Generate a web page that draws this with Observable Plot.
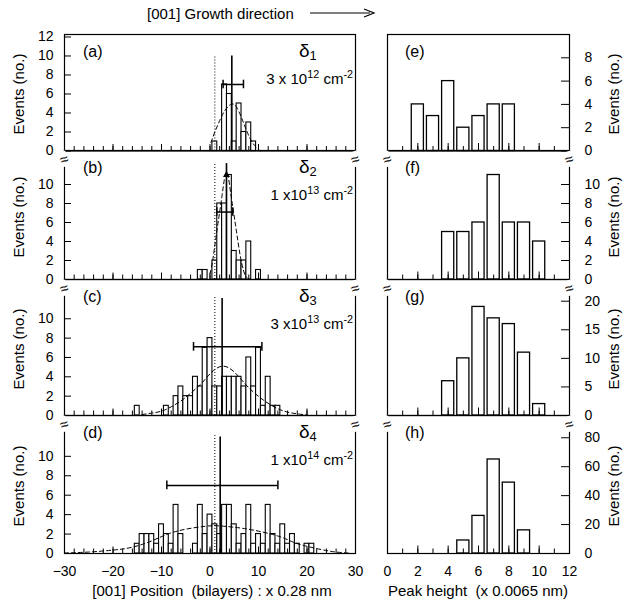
<!DOCTYPE html>
<html><head><meta charset="utf-8">
<script src="https://cdn.jsdelivr.net/npm/d3@7"></script>
<script src="https://cdn.jsdelivr.net/npm/@observablehq/plot@0.6"></script>
<style>
body{margin:0;background:#fff;font-family:"Liberation Sans",Arial,sans-serif;}
#chart{position:relative;width:626px;height:607px;overflow:hidden;background:#fff;}
#chart > svg{position:absolute;}
.t{position:absolute;white-space:pre;color:#000;line-height:1;}
.t sup{font-size:72%;vertical-align:0.55em;line-height:0;}
.t sub{font-size:68%;vertical-align:-0.3em;line-height:0;}
</style></head><body><div id="chart"></div>
<script>
// ---------- data ----------
// position histograms (bin centre in bilayers, event count)
const binsA = [1,3,4,5,6,7,8,9];
const countsA = [1,7,6,1,5,2,3,1];
const binsB = [-2,-1,1,2,3,4,5,6,7,8,10];
const countsB = [1,1,2,8,8,11,3,2,2,4,1];
const binsC = [-15,-9,-7,-6,-5,-4,-3,-2,-1,0,1,2,3,4,5,6,7,8,9,10,11,12,13,14];
const countsC = [1,1,2,3,2,2,4,3,7,8,3,3,4,4,4,4,3,6,3,7,1,4,1,1];
const binsD = [-15,-14,-13,-12,-11,-10,-9,-8,-7,-6,-3,-2,-1,0,1,2,3,4,5,6,7,8,9,10,11,12,13,14,15,16,17,18,20,21];
const countsD = [1,2,2,2,1,3,2,1,5,2,1,5,2,4,3,2,5,5,3,1,2,5,1,2,1,5,2,1,3,1,2,1,1,1];

// dashed fit curves
const fitAx = [0.2,1,2,3,4,4.7,5.5,6.5,7.5,8.5,9.5,10.4];
const fitAy = [0.9,2.0,3.2,4.2,4.8,4.95,4.6,3.5,2.2,1.1,0.4,0];
const fitBx = [0,0.55,1.5,2.5,3.4,4.3,5.3,6.2,7,7.6];
const fitBy = [0.6,2.0,5.4,8.9,11.3,9.0,5.6,2.6,0.8,0.2];
const fitCx = [-14,-12,-10,-8,-6,-4.5,-2,0,2.5,5,7,9,11,13,15,17,20];
const fitCy = [0.1,0.25,0.45,0.9,1.5,2.1,3.2,4.3,5.1,4.5,3.4,2.4,1.6,0.95,0.5,0.25,0.05];
const fitDx = [-30,-25,-20,-16,-12,-8.7,-5,-1,1.6,5,9,14,17,19.5,23,26,29];
const fitDy = [0.05,0.15,0.35,0.65,1.3,2.0,2.5,2.8,2.85,2.7,2.4,1.8,1.2,0.8,0.4,0.15,0.03];

// mean position (solid line), its top, error bar, nominal position (dotted)
const meanPos = [4.5, 3.4, 2.5, 2.1];
const meanTop = [10, 12.2, 12.1, 12];
const errY = [7.0, 7.1, 7.1, 7.0];
const errLo = [2.7, 1.4, -3.4, -8.9];
const errHi = [6.9, 4.7, 10.7, 14.0];
const nominalPos = [1, 1, 1, 1];
const nominalTop = [10, 12.2, 12.3, 12.2];

// peak height histograms
const binsE = [2,3,4,5,6,7,8];
const countsE = [4,3,6,2,3,4,4];
const binsF = [4,5,6,7,8,9,10];
const countsF = [5,5,6,11,6,6,4];
const binsG = [4,5,6,7,8,9,10];
const countsG = [6,10,19,17,16,11,2];
const binsH = [5,6,7,8,9];
const countsH = [9,26,65,49,16];

// labels
const panelLetters = ["(a)","(b)","(c)","(d)","(e)","(f)","(g)","(h)"];
const deltaNames = ["1","2","3","4"];
const densMant = ["3 x 10","1 x10","3 x10","1 x10"];
const densExp = ["12","13","13","14"];
const yTicksLeft = [[0,2,4,6,8,10,12],[0,2,4,6,8,10],[0,2,4,6,8,10],[0,2,4,6,8,10]];
const yTicksRight = [[0,2,4,6,8],[0,2,4,6,8,10],[0,5,10,15,20],[0,20,40,60,80]];
const xLabelsLeft = [-30,-20,-10,0,10,20,30];
const xLabelsRight = [0,2,4,6,8,10,12];
const yTopLeft = [12.26, 13.58, 14.06, 14.2];
const yTopRight = [10.0, 13.58, 23.8, 95.4];

// ---------- layout ----------
const chart = document.getElementById("chart");
const rows = [[33.5,150],[150,279],[279,415],[415,553]];
const leftX = [64,355], rightX = [387,569];
const font = '"Liberation Sans", Arial, sans-serif';

function addText(html, x, y, o = {}) {
  const s = document.createElement("div");
  s.className = "t";
  s.innerHTML = html;
  s.style.fontSize = (o.size || 14) + "px";
  const tx = o.anchor === "end" ? "-100%" : o.anchor === "start" ? "0" : "-50%";
  s.style.left = x + "px"; s.style.top = y + "px";
  s.style.transform = `translate(${tx},-50%)` + (o.rotate ? ` rotate(${o.rotate}deg)` : "");
  if (o.bg) { s.style.background = "#fff"; }
  chart.appendChild(s);
  return s;
}

function panel(cfg) {
  const [x0, x1] = cfg.xs, [y0, y1] = cfg.ys;
  const side = cfg.side;
  const ml = side === "left" ? 60 : 10, mr = side === "right" ? 55 : 10;
  const mt = 6, mb = cfg.bottom ? 44 : 6;
  const fw = x1 - x0, fh = y1 - y0;
  const marks = [
    ...cfg.marks,
    Plot.ruleX(cfg.minor, {x: d => d, insetTop: fh - cfg.minorLen, stroke: "black", strokeWidth: 1}),
    Plot.ruleX(cfg.major, {x: d => d, insetTop: fh - cfg.majorLen, stroke: "black", strokeWidth: 1}),
    Plot.ruleY(cfg.yTicks, side === "left"
      ? {y: d => d, insetRight: fw - 7, stroke: "black", strokeWidth: 1}
      : {y: d => d, insetLeft: fw - 8, stroke: "black", strokeWidth: 1}),
    Plot.axisY(cfg.yTicks, {anchor: side, tickSize: 0, tickPadding: side === "left" ? 11 : 15, label: null, fontSize: 14}),
    Plot.frame({stroke: "black", strokeWidth: 1.2})
  ];
  if (cfg.bottom) marks.push(Plot.axisX(cfg.xLabels, {anchor: "bottom", tickSize: 0, tickPadding: 13, label: null, fontSize: 14}));
  const svg = Plot.plot({
    width: fw + ml + mr, height: fh + mt + mb,
    marginLeft: ml, marginRight: mr, marginTop: mt, marginBottom: mb,
    x: cfg.bottom ? {domain: cfg.xDomain} : {domain: cfg.xDomain, axis: null},
    y: {domain: cfg.yDomain},
    style: {background: "transparent", fontFamily: font, fontSize: "14px", color: "black", overflow: "visible"},
    marks
  });
  svg.style.left = (x0 - ml) + "px";
  svg.style.top = (y0 - mt) + "px";
  chart.appendChild(svg);
}

const posBins = [binsA, binsB, binsC, binsD];
const posCounts = [countsA, countsB, countsC, countsD];
const fitsX = [fitAx, fitBx, fitCx, fitDx];
const fitsY = [fitAy, fitBy, fitCy, fitDy];
const phBins = [binsE, binsF, binsG, binsH];
const phCounts = [countsE, countsF, countsG, countsH];

const leftMinor = d3.range(-30, 31, 2);
const leftMajor = [-30,-20,-10,0,10,20,30];
const rightMinor = d3.range(0, 13, 1);
const rightMajor = [0,2,4,6,8,10,12];

for (let i = 0; i < 4; i++) {
  const hist = posBins[i].map((x, j) => ({x, n: posCounts[i][j]}));
  const fit = fitsX[i].map((x, j) => ({x, y: fitsY[i][j]}));
  const err = [{y: errY[i], lo: errLo[i], hi: errHi[i]}];
  const marks = [
    Plot.rect(hist, {x1: d => d.x - 0.5, x2: d => d.x + 0.5, y1: 0, y2: "n", fill: "white", stroke: "black", strokeWidth: 1.1}),
    Plot.line(fit, {x: "x", y: "y", curve: "natural", stroke: "black", strokeWidth: 1, strokeDasharray: "4,3"}),
    Plot.ruleX([nominalPos[i]], {x: d => d, y1: 0, y2: nominalTop[i], stroke: "black", strokeWidth: 1, strokeDasharray: "1,2"}),
    Plot.ruleX([meanPos[i]], {x: d => d, y1: 0, y2: meanTop[i], stroke: "black", strokeWidth: 1.6}),
    Plot.ruleY(err, {y: "y", x1: "lo", x2: "hi", stroke: "black", strokeWidth: 1.5}),
    Plot.ruleX(err.flatMap(e => [{x: e.lo, y: e.y}, {x: e.hi, y: e.y}]), {x: "x", y1: d => d.y - 0.45, y2: d => d.y + 0.45, stroke: "black", strokeWidth: 1.5})
  ];
  if (i === 1) marks.push(Plot.dot([{x: meanPos[1], y: 11.0}], {x: "x", y: "y", symbol: "triangle", r: 2.6, fill: "black"}));
  panel({
    xs: leftX, ys: rows[i], side: "left", bottom: i === 3,
    xDomain: [-30, 30], yDomain: [0, yTopLeft[i]],
    yTicks: yTicksLeft[i], xLabels: xLabelsLeft,
    minor: leftMinor, major: leftMajor, minorLen: 4.5, majorLen: 6.5,
    marks
  });

  const ph = phBins[i].map((x, j) => ({x, n: phCounts[i][j]}));
  panel({
    xs: rightX, ys: rows[i], side: "right", bottom: i === 3,
    xDomain: [0, 12], yDomain: [0, yTopRight[i]],
    yTicks: yTicksRight[i], xLabels: xLabelsRight,
    minor: rightMinor, major: rightMajor, minorLen: 4.5, majorLen: 7.5,
    marks: [Plot.rect(ph, {x1: d => d.x - 0.4, x2: d => d.x + 0.4, y1: 0, y2: "n", fill: "white", stroke: "black", strokeWidth: 1.3})]
  });
}

// ---------- texts ----------
for (let i = 0; i < 4; i++) {
  const top = rows[i][0];
  const mid = (rows[i][0] + rows[i][1]) / 2;
  addText(panelLetters[i], 83, top + 18, {anchor: "start", size: 16});
  addText(panelLetters[i + 4], 405, top + 18, {anchor: "start", size: 16});
  addText(`δ<sub>${deltaNames[i]}</sub>`, 299, top + 16, {anchor: "start", size: 19});
  addText(`${densMant[i]}<sup>${densExp[i]}</sup> cm<sup>-2</sup>`, 353, top + 44, {anchor: "end", size: 15});
  addText("Events (no.)", 18, mid + 2, {rotate: -90, size: 15});
  addText("Events (no.)", 613, mid + 2, {rotate: -90, size: 15});
}
// axis breaks
for (let i = 1; i < 4; i++) {
  const yb = rows[i][0] + 9;
  for (const xb of [leftX[0], leftX[1], rightX[0], rightX[1]]) {
    addText("≈", xb, yb, {size: 15, bg: true, rotate: -20});
  }
}
addText("[001] Position  (bilayers) : x 0.28 nm", 212, 590, {size: 15});
addText("Peak height  (x 0.0065 nm)", 478, 590, {size: 15});
addText("[001] Growth direction", 147, 13, {anchor: "start", size: 15});

// header arrow
const ns = "http://www.w3.org/2000/svg";
const arr = document.createElementNS(ns, "svg");
arr.setAttribute("width", "70"); arr.setAttribute("height", "12");
arr.style.position = "absolute"; arr.style.left = "308px"; arr.style.top = "7px";
arr.innerHTML = '<line x1="2" y1="6" x2="62" y2="6" stroke="black" stroke-width="1.2"/><path d="M56,2 L66,6 L56,10" fill="none" stroke="black" stroke-width="1.2"/>';
chart.appendChild(arr);
</script></body></html>
